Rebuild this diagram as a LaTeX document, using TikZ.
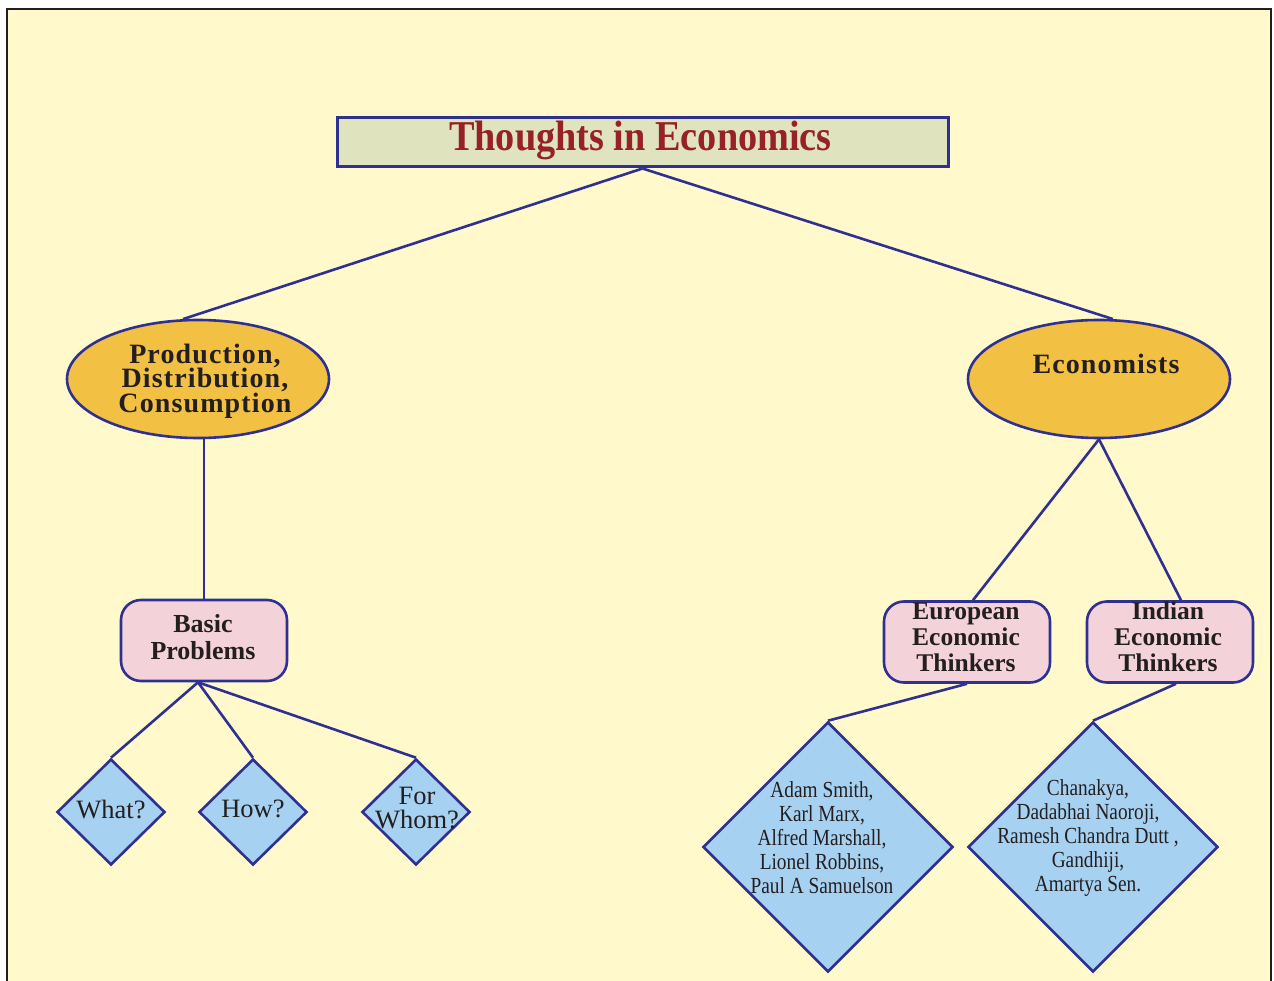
\documentclass[tikz,border=0pt]{standalone}
\usepackage{fontspec}
\setmainfont{Liberation Serif}
\newfontfamily\condfont[FakeStretch=0.84]{Liberation Serif}
\newfontfamily\titlefont[FakeStretch=0.9]{Liberation Serif}
\newfontfamily\spacedfont[LetterSpace=4]{Liberation Serif}
\usetikzlibrary{shapes.geometric}
\definecolor{bgyellow}{HTML}{FFF9CB}
\definecolor{edgeblue}{HTML}{2E3192}
\definecolor{titlefill}{HTML}{DFE4BE}
\definecolor{titlered}{HTML}{962126}
\definecolor{ovalfill}{HTML}{F2C043}
\definecolor{pinkfill}{HTML}{F4D2D9}
\definecolor{bluefill}{HTML}{A7D1F1}
\definecolor{inkdark}{HTML}{231F20}
\definecolor{framegrey}{HTML}{231F20}
\tikzset{
  conn/.style={draw=edgeblue, line width=2.6pt},
  titlebox/.style={draw=edgeblue, line width=3pt, fill=titlefill, minimum width=611pt, minimum height=49pt, inner sep=0pt},
  oval/.style={ellipse, draw=edgeblue, line width=2.6pt, fill=ovalfill, minimum width=262pt, minimum height=118pt, inner sep=0pt},
  ovaltext/.style={align=center, text=inkdark, font=\spacedfont\bfseries\fontsize{28}{24.5}\selectfont, inner sep=0pt},
  pinkbox/.style={draw=edgeblue, line width=2.6pt, fill=pinkfill, rounded corners=20pt, minimum width=166pt, minimum height=81pt, inner sep=0pt},
  pinktext/.style={align=center, text=inkdark, inner sep=0pt},
  smalldia/.style={diamond, draw=edgeblue, line width=2.6pt, fill=bluefill, minimum width=108pt, minimum height=106pt, inner sep=0pt},
  bigdia/.style={diamond, draw=edgeblue, line width=2.6pt, fill=bluefill, minimum width=250pt, minimum height=250pt, inner sep=0pt},
  smalltext/.style={align=center, text=inkdark, font=\fontsize{26.5}{24}\selectfont, inner sep=0pt},
  bigtext/.style={align=center, text=inkdark, font=\condfont\fontsize{23}{24}\selectfont, inner sep=0pt}
}
\begin{document}
\begin{tikzpicture}[x=1pt,y=-1pt]
\useasboundingbox (0,0) rectangle (1274,981);
\fill[white] (0,0) rectangle (1274,981);
\fill[bgyellow] (7,9) rectangle (1271,981);
\draw[framegrey, line width=2.6pt] (7,981) -- (7,9) -- (1271,9) -- (1271,981);

\node[titlebox] (title) at (642.5,142.5) {};
\node[text=titlered, font=\titlefont\bfseries\fontsize{42.5}{42}\selectfont, inner sep=0pt] (titletext) at (640.5,140) {Thoughts in Economics};

\node[oval] (prod) at (198,379) {};
\node[ovaltext] (prodtext) at (205,381) {Production,\\Distribution,\\Consumption};
\node[oval] (econ) at (1099,379) {};
\node[ovaltext] (econtext) at (1106,364) {Economists};

\node[pinkbox] (bp) at (204,640.5) {};
\node[pinktext, font=\bfseries\fontsize{26}{27}\selectfont] (bptext) at (203,637) {Basic\\Problems};
\node[pinkbox] (eur) at (967,642) {};
\node[pinktext, font=\bfseries\fontsize{25.5}{26}\selectfont] (eurtext) at (966,637) {European\\Economic\\Thinkers};
\node[pinkbox] (ind) at (1170,642) {};
\node[pinktext, font=\bfseries\fontsize{25.5}{26}\selectfont] (indtext) at (1168,637) {Indian\\Economic\\Thinkers};

\node[smalldia] (what) at (111,812) {};
\node[smalltext] (whattext) at (111,810) {What?};
\node[smalldia] (how) at (253,812) {};
\node[smalltext] (howtext) at (253,809) {How?};
\node[smalldia] (whom) at (416,812) {};
\node[smalltext] (whomtext) at (417,808) {For\\Whom?};

\node[bigdia] (eurdia) at (828,847) {};
\node[bigtext] (eurdtext) at (822,838) {Adam Smith,\\Karl Marx,\\Alfred Marshall,\\Lionel Robbins,\\Paul A Samuelson};
\node[bigdia] (inddia) at (1093,847) {};
\node[bigtext] (inddtext) at (1088,838) {Chanakya,\\Dadabhai Naoroji,\\Ramesh Chandra Dutt ,\\Gandhiji,\\Amartya Sen.};

\draw[conn] (title.south) -- (prod.104);
\draw[conn] (title.south) -- (econ.77);
\draw[conn] (bp.north) -- (bp.north |- prod.south);
\draw[conn] (econ.south) -- ([xshift=6pt]eur.north);
\draw[conn] (econ.south) -- ([xshift=11pt]ind.north);
\draw[conn] ([xshift=-6pt]bp.south) -- (what.north);
\draw[conn] ([xshift=-6pt]bp.south) -- (how.north);
\draw[conn] ([xshift=-6pt]bp.south) -- (whom.north);
\draw[conn] (eur.south) -- (eurdia.north);
\draw[conn] ([xshift=6pt]ind.south) -- (inddia.north);
\end{tikzpicture}
\end{document}
